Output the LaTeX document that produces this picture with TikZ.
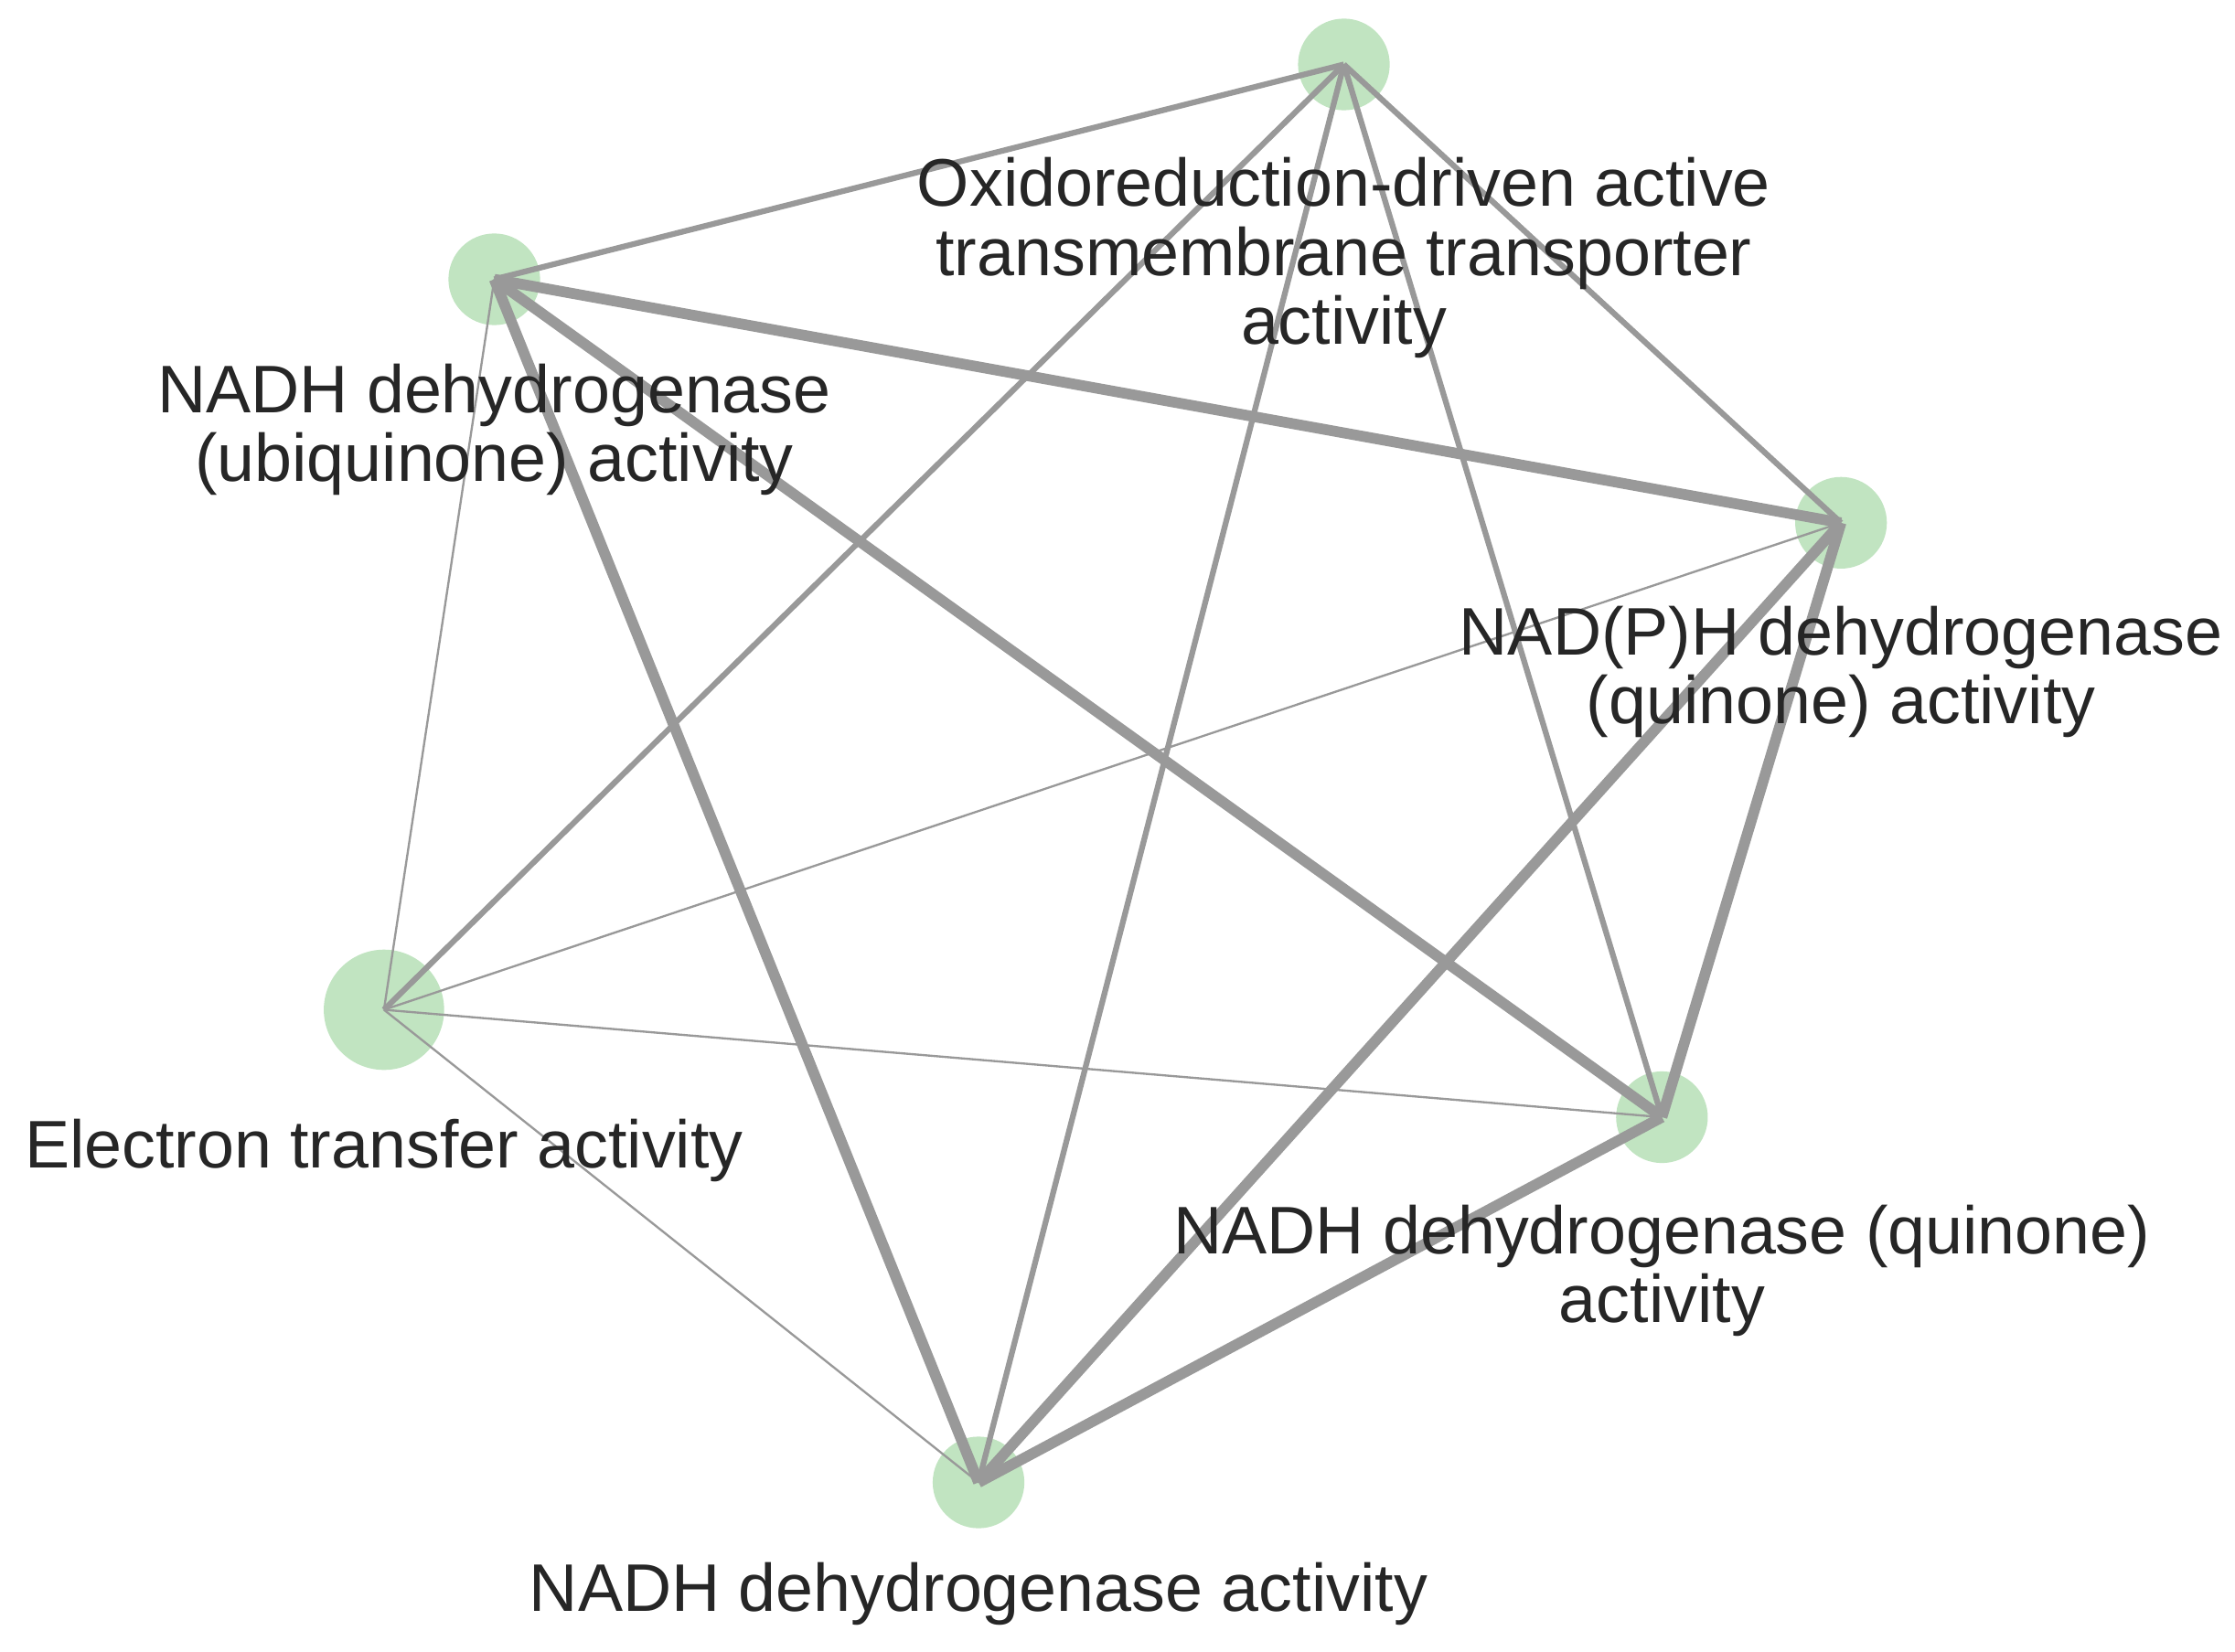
\documentclass[tikz,border=0pt]{standalone}
\usepackage{fontspec}
\setmainfont{Liberation Sans}
\begin{document}
\begin{tikzpicture}[x=1pt,y=-1pt,
  dot/.style={circle,fill=green!55!black!30!white,fill opacity=0.8,inner sep=0pt,minimum size=64pt},
  lab/.style={align=center,text=black!85,font=\fontsize{47}{48}\selectfont},
  e1/.style={draw=black!40,line width=1.5pt},
  e2/.style={draw=black!40,line width=4pt},
  e3/.style={draw=black!40,line width=7.5pt}]
\useasboundingbox (0,0) rectangle (1560,1153);
\node[dot] (ox) at (938,45) {};
\node[dot] (ub) at (345,195) {};
\node[dot] (np) at (1285,365) {};
\node[dot,minimum size=84pt] (et) at (268,705) {};
\node[dot] (qu) at (1160,780) {};
\node[dot] (na) at (683,1035) {};
\draw[e2] (ox.center)--(ub.center);
\draw[e2] (ox.center)--(np.center);
\draw[e2] (ox.center)--(et.center);
\draw[e2] (ox.center)--(na.center);
\draw[e2] (ox.center)--(qu.center);
\draw[e3] (ub.center)--(np.center);
\draw[e1] (ub.center)--(et.center);
\draw[e3] (ub.center)--(na.center);
\draw[e3] (ub.center)--(qu.center);
\draw[e1] (np.center)--(et.center);
\draw[e3] (np.center)--(na.center);
\draw[e3] (np.center)--(qu.center);
\draw[e1] (et.center)--(qu.center);
\draw[e1] (et.center)--(na.center);
\draw[e3] (qu.center)--(na.center);
\node[lab] (lox) at (938,180) {Oxidoreduction-driven active\\transmembrane transporter\\activity};
\node[lab] (lub) at (345,300) {NADH dehydrogenase\\(ubiquinone) activity};
\node[lab] (lnp) at (1285,469) {NAD(P)H dehydrogenase\\(quinone) activity};
\node[lab] (let) at (268,803) {Electron transfer activity};
\node[lab] (lqu) at (1160,887) {NADH dehydrogenase (quinone)\\activity};
\node[lab] (lna) at (683,1113) {NADH dehydrogenase activity};
\end{tikzpicture}
\end{document}
